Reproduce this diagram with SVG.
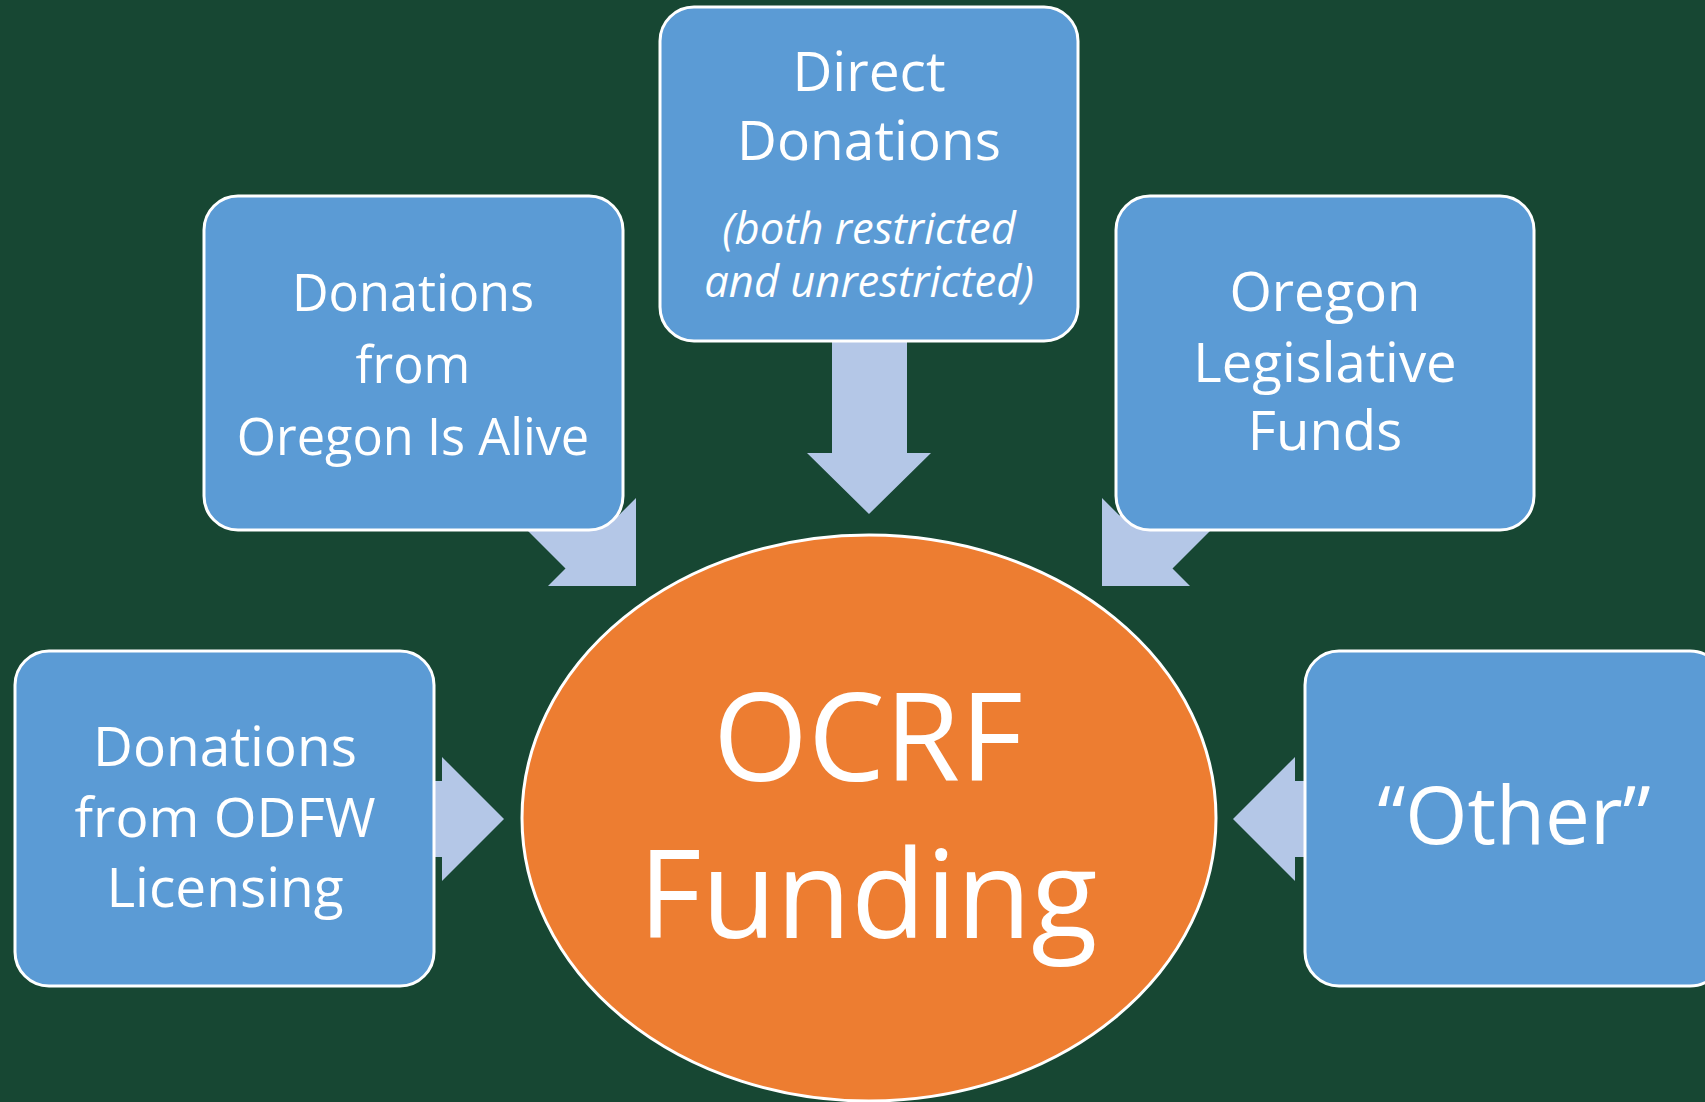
<svg xmlns="http://www.w3.org/2000/svg" width="1705" height="1102" viewBox="0 0 1705 1102">
<style>
.box{fill:#5B9BD5;stroke:#FFFFFF;stroke-width:3}
.arrow{fill:#B4C7E7;stroke:none}
.t{fill:#FFFFFF;font-family:"Open Sans","Noto Sans","DejaVu Sans",sans-serif;text-anchor:middle}
.it{font-style:italic}
</style>
<rect x="0" y="0" width="1705" height="1102" fill="#174733"/>
<g id="connectors">
<polygon class="arrow" points="832,300 907,300 907,453 931,453 869,514 807,453 832,453"/>
<polygon class="arrow" points="636,586 636,498 618.5,515.5 518.5,415.5 465.5,468.5 565.5,568.5 548,586"/>
<polygon class="arrow" points="1102,586 1102,498 1119.5,515.5 1219.5,415.5 1272.5,468.5 1172.5,568.5 1190,586"/>
<polygon class="arrow" points="400,781 442,781 442,757 504,819 442,881 442,857 400,857"/>
<polygon class="arrow" points="1340,781 1295,781 1295,757 1233,819 1295,881 1295,857 1340,857"/>
</g>
<g id="ocrf">
<ellipse cx="869" cy="818" rx="347" ry="283" fill="#ED7D31" stroke="#FFFFFF" stroke-width="3"/>
<text class="t" x="868" y="781" font-size="122">OCRF</text>
<text class="t" x="868" y="938" font-size="122">Funding</text>
</g>
<g id="direct">
<rect class="box" x="660" y="7" width="418" height="334" rx="34"/>
<text class="t" x="869" y="91" font-size="55">Direct</text>
<text class="t" x="869" y="160" font-size="55">Donations</text>
<text class="t it" x="869" y="244" font-size="43.5">(both restricted</text>
<text class="t it" x="869" y="297" font-size="43.5">and unrestricted)</text>
</g>
<g id="alive">
<rect class="box" x="204" y="196" width="419" height="334" rx="34"/>
<text class="t" x="413" y="311" font-size="50.5">Donations</text>
<text class="t" x="413" y="383" font-size="50.5">from</text>
<text class="t" x="413" y="455" font-size="50.5">Oregon Is Alive</text>
</g>
<g id="legislative">
<rect class="box" x="1116" y="196" width="418" height="334" rx="34"/>
<text class="t" x="1325" y="311" font-size="54.5">Oregon</text>
<text class="t" x="1325" y="382" font-size="54.5">Legislative</text>
<text class="t" x="1325" y="450" font-size="54.5">Funds</text>
</g>
<g id="odfw">
<rect class="box" x="15" y="651" width="419" height="335" rx="34"/>
<text class="t" x="225" y="766" font-size="55">Donations</text>
<text class="t" x="225" y="837" font-size="55">from ODFW</text>
<text class="t" x="225" y="907" font-size="55">Licensing</text>
</g>
<g id="other">
<rect class="box" x="1305" y="651" width="419" height="335" rx="34"/>
<text class="t" x="1514" y="844" font-size="80">“Other”</text>
</g>
</svg>
